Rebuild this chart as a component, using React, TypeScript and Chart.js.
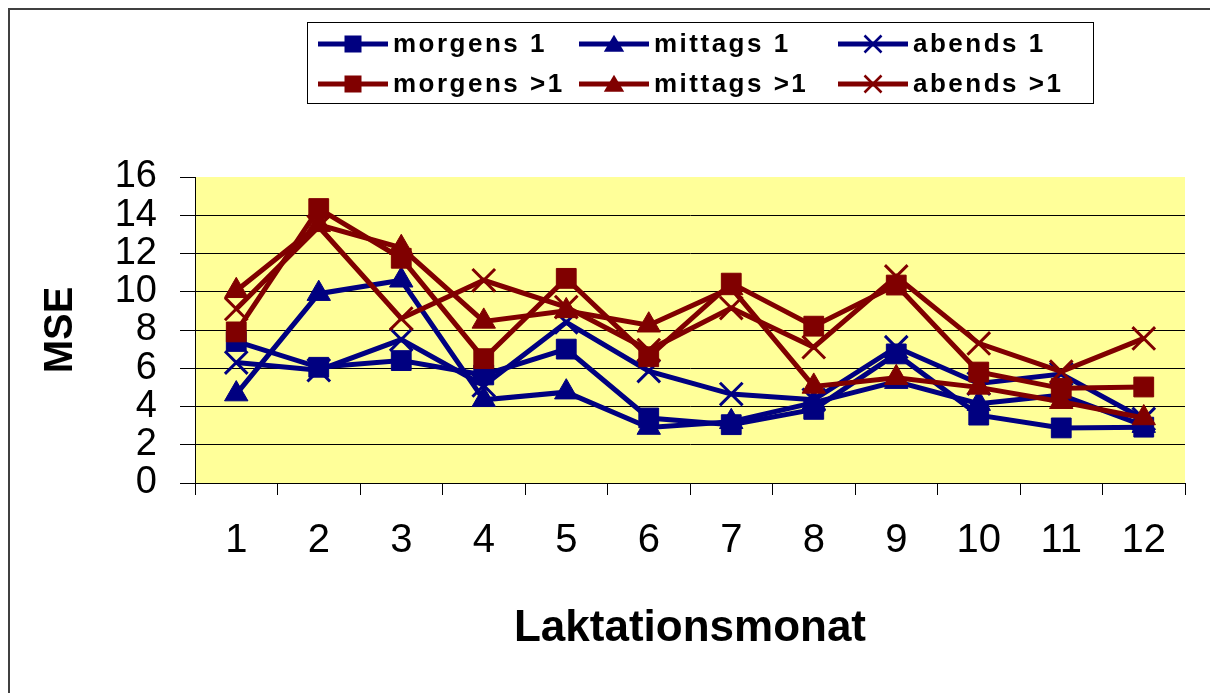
import React, { useEffect, useRef } from 'react';
import { Chart, registerables } from 'chart.js';

Chart.register(...registerables);

// ---- data ----
const months = ['1', '2', '3', '4', '5', '6', '7', '8', '9', '10', '11', '12'];
const morgens1 = [7.4, 6.05, 6.4, 5.65, 7.0, 3.4, 3.05, 3.85, 6.75, 3.55, 2.88, 2.92];
const mittags1 = [4.65, 9.9, 10.6, 4.35, 4.75, 2.9, 3.2, 4.2, 5.3, 4.15, 4.6, 3.0];
const abends1 = [6.3, 5.9, 7.5, 5.1, 8.4, 5.85, 4.65, 4.35, 7.1, 5.2, 5.7, 3.35];
const morgensGt1 = [7.9, 14.35, 11.75, 6.5, 10.7, 6.6, 10.45, 8.2, 10.35, 5.8, 4.95, 5.02];
const mittagsGt1 = [10.05, 13.5, 12.3, 8.45, 9.0, 8.25, 10.2, 5.05, 5.5, 5.0, 4.25, 3.4];
const abendsGt1 = [9.1, 13.4, 8.6, 10.6, 9.2, 6.95, 9.15, 7.1, 10.8, 7.3, 5.82, 7.56];
const seriesNames = ['morgens 1', 'mittags 1', 'abends 1', 'morgens >1', 'mittags >1', 'abends >1'];
const yTicks = [0, 2, 4, 6, 8, 10, 12, 14, 16];
const xTitle = 'Laktationsmonat';
const yTitle = 'MSE';

const BLUE = '#000080';
const RED = '#800000';
const FONT = "'Liberation Sans', Arial, sans-serif";

function drawMarker(ctx: CanvasRenderingContext2D, style: string, x: number, y: number, s: number, color: string) {
  ctx.save();
  ctx.fillStyle = color;
  ctx.strokeStyle = color;
  if (style === 'rect') {
    ctx.fillRect(x - s / 2, y - s / 2, s, s);
  } else if (style === 'triangle') {
    ctx.beginPath();
    ctx.moveTo(x, y - s * 0.55);
    ctx.lineTo(x - s * 0.6, y + s * 0.45);
    ctx.lineTo(x + s * 0.6, y + s * 0.45);
    ctx.closePath();
    ctx.fill();
  } else {
    ctx.lineWidth = 2.5;
    ctx.beginPath();
    ctx.moveTo(x - s / 2, y - s / 2);
    ctx.lineTo(x + s / 2, y + s / 2);
    ctx.moveTo(x + s / 2, y - s / 2);
    ctx.lineTo(x - s / 2, y + s / 2);
    ctx.stroke();
  }
  ctx.restore();
}

const bgPlugin = {
  id: 'bgFrame',
  beforeDraw(chart: any) {
    const { ctx, chartArea: a, width, height } = chart;
    ctx.save();
    ctx.fillStyle = '#ffffff';
    ctx.fillRect(0, 0, width, height);
    ctx.fillStyle = '#404040';
    ctx.fillRect(8, 8, 2, height);
    ctx.fillRect(8, 8, width, 2);
    ctx.fillStyle = '#FFFF99';
    ctx.fillRect(a.left, a.top, a.right - a.left, a.bottom - a.top);
    ctx.restore();
  },
};

const legendPlugin = {
  id: 'customLegend',
  afterDraw(chart: any) {
    const ctx = chart.ctx as CanvasRenderingContext2D;
    ctx.save();
    ctx.strokeStyle = '#000';
    ctx.lineWidth = 1;
    ctx.strokeRect(307.5, 22.5, 786, 81);
    const cols = [318, 579, 838];
    const rows = [44, 84];
    chart.data.datasets.forEach((ds: any, i: number) => {
      const cx = cols[i % 3];
      const cy = rows[Math.floor(i / 3)];
      ctx.strokeStyle = ds.borderColor;
      ctx.lineWidth = 5;
      ctx.beginPath();
      ctx.moveTo(cx, cy);
      ctx.lineTo(cx + 70, cy);
      ctx.stroke();
      drawMarker(ctx, ds.pointStyle, cx + 35, cy, 17, ds.borderColor);
      ctx.fillStyle = '#000';
      ctx.font = `bold 26px ${FONT}`;
      (ctx as any).letterSpacing = '2.5px';
      ctx.textAlign = 'left';
      ctx.textBaseline = 'middle';
      ctx.fillText(ds.label, cx + 75, cy + 1);
      (ctx as any).letterSpacing = '0px';
    });
    ctx.restore();
  },
};

function mk(i: number, data: number[], color: string, style: string) {
  const r = style === 'rect' ? 14 : style === 'triangle' ? 13.5 : 16;
  return {
    label: seriesNames[i],
    data,
    borderColor: color,
    backgroundColor: color,
    borderWidth: 5,
    pointStyle: style,
    pointRadius: r,
    pointHoverRadius: r,
    pointBorderWidth: style === 'crossRot' ? 3 : 1,
    pointBackgroundColor: color,
    pointBorderColor: color,
    tension: 0,
    order: 5 - i,
  };
}

export default function App() {
  const ref = useRef<HTMLCanvasElement>(null);
  useEffect(() => {
    const chart = new Chart(ref.current as HTMLCanvasElement, {
      type: 'line',
      data: {
        labels: months,
        datasets: [
          mk(0, morgens1, BLUE, 'rect'),
          mk(1, mittags1, BLUE, 'triangle'),
          mk(2, abends1, BLUE, 'crossRot'),
          mk(3, morgensGt1, RED, 'rect'),
          mk(4, mittagsGt1, RED, 'triangle'),
          mk(5, abendsGt1, RED, 'crossRot'),
        ] as any,
      },
      options: {
        responsive: false,
        animation: false,
        devicePixelRatio: 1,
        layout: { padding: { top: 177, right: 25, bottom: 0, left: 0 } },
        plugins: { legend: { display: false }, tooltip: { enabled: false } },
        scales: {
          x: {
            type: 'category',
            offset: true,
            grid: { offset: true, drawOnChartArea: false, drawTicks: true, tickLength: 12, color: '#000', lineWidth: 1 },
            border: { display: true, color: '#000', width: 1 },
            ticks: { color: '#000', font: { family: FONT, size: 40 }, padding: 22, autoSkip: false, maxRotation: 0 },
            title: {
              display: true,
              text: xTitle,
              color: '#000',
              font: { family: FONT, size: 44, weight: 'bold' },
              padding: { top: 0, bottom: 38 },
            },
            afterFit: (s: any) => {
              s.height = 210;
            },
          },
          y: {
            min: 0,
            max: 16,
            afterBuildTicks: (s: any) => {
              s.ticks = yTicks.map((v) => ({ value: v }));
            },
            ticks: { color: '#000', font: { family: FONT, size: 38 }, padding: 23, autoSkip: false },
            grid: {
              color: (c: any) => (c.tick && c.tick.value === 16 ? 'rgba(0,0,0,0)' : '#000'),
              tickColor: '#000',
              tickLength: 15,
              lineWidth: 1,
            },
            border: { display: true, color: '#000', width: 1 },
            title: {
              display: true,
              text: yTitle,
              color: '#000',
              font: { family: FONT, size: 40, weight: 'bold' },
              padding: { top: 37, bottom: 0 },
            },
            afterFit: (s: any) => {
              s.width = 195;
            },
          },
        },
      } as any,
      plugins: [bgPlugin, legendPlugin],
    });
    return () => chart.destroy();
  }, []);
  return (
    <div style={{ position: 'fixed', left: 0, top: 0, width: 1210, height: 693, background: '#fff' }}>
      <canvas ref={ref} width={1210} height={693} style={{ display: 'block', width: 1210, height: 693 }} />
    </div>
  );
}
